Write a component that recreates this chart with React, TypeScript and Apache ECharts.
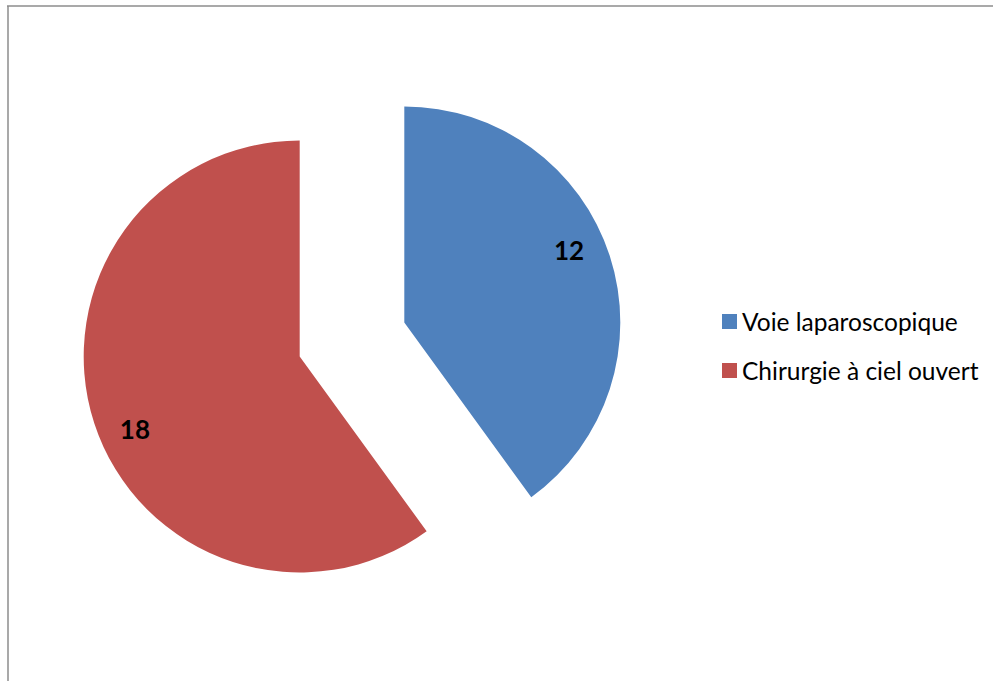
import React, { useEffect, useRef } from "react";
import * as echarts from "echarts";

const categories = ["Voie laparoscopique", "Chirurgie à ciel ouvert"];
const values = [12, 18];
const colors = ["#4F81BD", "#C0504D"];

export default function App() {
  const ref = useRef<HTMLDivElement>(null);
  useEffect(() => {
    if (!ref.current) return;
    const chart = echarts.init(ref.current, undefined, { renderer: "svg" });
    const font = "Lato, 'Noto Sans', sans-serif";
    const baseData = categories.map((name, i) => ({
      name,
      value: values[i],
      selected: true,
      itemStyle: { color: colors[i] },
      select: { itemStyle: { color: colors[i], borderWidth: 0 } },
    }));
    const labelData = categories.map((name, i) => ({
      name,
      value: values[i],
      selected: true,
      itemStyle: { color: "rgba(0,0,0,0)" },
      select: { itemStyle: { color: "rgba(0,0,0,0)", borderWidth: 0 } },
    }));
    chart.setOption({
      animation: false,
      backgroundColor: "#ffffff",
      graphic: [
        { type: "line", shape: { x1: 7, y1: 6, x2: 993, y2: 6 }, style: { stroke: "#8c8c8c", lineWidth: 1.5 } },
        { type: "line", shape: { x1: 8, y1: 6, x2: 8, y2: 681 }, style: { stroke: "#8c8c8c", lineWidth: 1.5 } },
      ],
      legend: {
        orient: "vertical",
        left: 717,
        top: 304,
        itemWidth: 15,
        itemHeight: 15,
        itemGap: 24,
        icon: "rect",
        data: categories,
        textStyle: { fontFamily: font, fontSize: 24.5, color: "#000", lineHeight: 24 },
        selectedMode: false,
      },
      series: [
        {
          type: "pie",
          center: [352, 339.5],
          radius: 216,
          startAngle: 90,
          clockwise: true,
          selectedMode: "multiple",
          selectedOffset: 55,
          label: { show: false },
          labelLine: { show: false },
          emphasis: { disabled: true },
          silent: true,
          data: baseData,
        },
        {
          type: "pie",
          center: [352, 339.5],
          radius: [138, 216],
          startAngle: 94.5,
          clockwise: true,
          selectedMode: "multiple",
          selectedOffset: 55,
          label: {
            show: true,
            position: "inside",
            formatter: "{c}",
            fontFamily: font,
            fontSize: 26,
            fontWeight: "bold",
            color: "#000",
          },
          labelLine: { show: false },
          emphasis: { disabled: true },
          silent: true,
          data: labelData,
        },
      ],
    });
    return () => chart.dispose();
  }, []);
  return (
    <div
      ref={ref}
      style={{ position: "absolute", left: 0, top: 0, width: 993, height: 681 }}
    />
  );
}
